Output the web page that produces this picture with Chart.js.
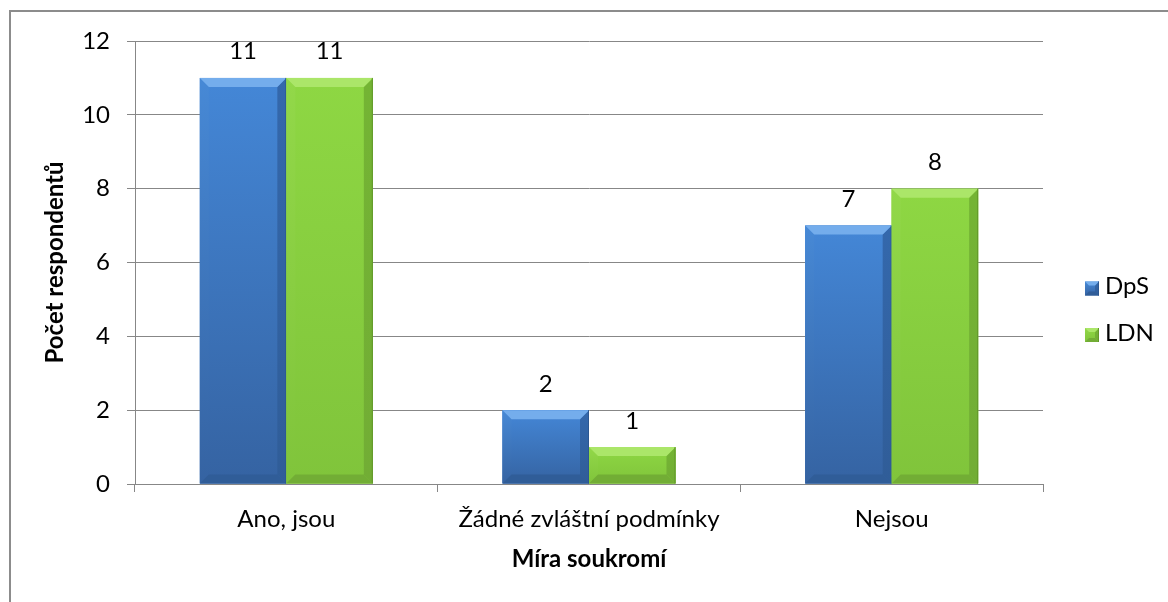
<!DOCTYPE html>
<html>
<head>
<meta charset="utf-8">
<script src="https://cdn.jsdelivr.net/npm/chart.js@4.4.0/dist/chart.umd.min.js"></script>
<style>
  html, body { margin: 0; padding: 0; background: #ffffff; }
  #wrap { width: 1168px; height: 602px; position: relative; }
</style>
</head>
<body>
<div id="wrap"><canvas id="chart" width="1168" height="602"></canvas></div>
<script>
// Categories and values
const categories = ['Ano, jsou', 'Žádné zvláštní podmínky', 'Nejsou'];
const seriesNames = ['DpS', 'LDN'];
const dpsValues = [11, 2, 7];
const ldnValues = [11, 1, 8];
const yTickValues = [0, 2, 4, 6, 8, 10, 12];

// Bevelled fill palettes, one per series
const palettes = [
  { base: '#3F7CC8', faceTop: '#4487D7', faceBottom: '#3563A2', top: '#74ADEC', left: '#4789D6', right: '#3468AC', bottom: '#305D98', edge: '#2C5791' },
  { base: '#88CE3E', faceTop: '#8ED743', faceBottom: '#80C43B', top: '#ABE669', left: '#92D849', right: '#74B434', bottom: '#72AD35', edge: '#62982A' }
];

const gridColor = '#878787';
const FONT = 'Lato';

function poly(ctx, pts, fill) {
  ctx.beginPath();
  ctx.moveTo(pts[0][0], pts[0][1]);
  for (let i = 1; i < pts.length; i++) ctx.lineTo(pts[i][0], pts[i][1]);
  ctx.closePath();
  ctx.fillStyle = fill;
  ctx.fill();
}

function bevelBox(ctx, l, t, r, b, pal, size) {
  const bv = Math.min(size, (b - t) / 3, (r - l) / 3);
  const g = ctx.createLinearGradient(0, t, 0, b);
  g.addColorStop(0, pal.faceTop);
  g.addColorStop(1, pal.faceBottom);
  ctx.fillStyle = g;
  ctx.fillRect(l, t, r - l, b - t);
  // left side
  const gl = ctx.createLinearGradient(0, t, 0, b);
  gl.addColorStop(0, pal.left);
  gl.addColorStop(1, pal.faceBottom);
  poly(ctx, [[l, t], [l + bv, t + bv], [l + bv, b - bv], [l, b]], gl);
  // right side
  const gr = ctx.createLinearGradient(0, t, 0, b);
  gr.addColorStop(0, pal.right);
  gr.addColorStop(1, pal.bottom);
  poly(ctx, [[r, t], [r - bv, t + bv], [r - bv, b - bv], [r, b]], gr);
  // bottom edge
  poly(ctx, [[l, b], [l + bv, b - bv], [r - bv, b - bv], [r, b]], pal.bottom);
  // top edge
  poly(ctx, [[l, t], [r, t], [r - bv, t + bv], [l + bv, t + bv]], pal.top);
  // thin darker rim on the right
  ctx.fillStyle = pal.edge;
  ctx.fillRect(r - 1, t, 1, b - t);
}

// Paints the bevel look over each bar and writes the value above it
const barStyling = {
  id: 'barStyling',
  afterDatasetsDraw(chart) {
    const ctx = chart.ctx;
    ctx.save();
    chart.data.datasets.forEach((ds, di) => {
      const meta = chart.getDatasetMeta(di);
      meta.data.forEach((bar, i) => {
        const p = bar.getProps(['x', 'y', 'base', 'width'], true);
        const l = p.x - p.width / 2, r = p.x + p.width / 2;
        const t = Math.min(p.y, p.base), b = Math.max(p.y, p.base);
        bevelBox(ctx, l, t, r, b, palettes[di], 9);
        ctx.fillStyle = '#000000';
        ctx.font = '24px ' + FONT;
        ctx.textAlign = 'center';
        ctx.textBaseline = 'alphabetic';
        ctx.fillText(String(ds.data[i]), p.x, t - 18.5);
      });
    });
    ctx.restore();
  },
  afterDraw(chart) {
    const ctx = chart.ctx;
    ctx.save();
    // outer frame of the chart
    ctx.strokeStyle = '#8c8c8c';
    ctx.lineWidth = 2;
    ctx.beginPath();
    ctx.moveTo(10, 602);
    ctx.lineTo(10, 11);
    ctx.lineTo(1168, 11);
    ctx.stroke();
    // legend
    ctx.font = '24px ' + FONT;
    ctx.textAlign = 'left';
    ctx.textBaseline = 'alphabetic';
    chart.data.datasets.forEach((ds, di) => {
      const boxTop = 281.5 + di * 46.5;
      bevelBox(ctx, 1085, boxTop, 1099, boxTop + 14, palettes[di], 4);
      ctx.fillStyle = '#000000';
      ctx.fillText(ds.label, 1105, 293.5 + di * 47.5);
    });
    ctx.restore();
  }
};

Chart.defaults.font.family = FONT;
Chart.defaults.color = '#000000';

new Chart(document.getElementById('chart'), {
  type: 'bar',
  data: {
    labels: categories,
    datasets: [
      { label: seriesNames[0], data: dpsValues, backgroundColor: palettes[0].base, borderWidth: 0 },
      { label: seriesNames[1], data: ldnValues, backgroundColor: palettes[1].base, borderWidth: 0 }
    ]
  },
  options: {
    responsive: false,
    animation: false,
    events: [],
    layout: { padding: { left: 0, top: 41, right: 125, bottom: 0 } },
    datasets: { bar: { categoryPercentage: 2 / 3.5, barPercentage: 1 } },
    plugins: {
      legend: { display: false },
      tooltip: { enabled: false }
    },
    scales: {
      x: {
        grid: { offset: true, drawOnChartArea: false, color: gridColor, tickLength: 8, lineWidth: 1 },
        border: { display: true, color: gridColor, width: 1 },
        ticks: { font: { size: 24 }, padding: 13, maxRotation: 0, autoSkip: false },
        title: { display: true, text: 'Míra soukromí', font: { size: 24, weight: 'bold' }, padding: { top: 0, bottom: 28.5 } },
        afterFit(scale) { scale.height = 602 - 484; }
      },
      y: {
        min: 0,
        max: 12,
        afterBuildTicks(scale) { scale.ticks = yTickValues.map(v => ({ value: v })); },
        grid: { color: gridColor, tickLength: 8, lineWidth: 1 },
        border: { display: true, color: gridColor, width: 1 },
        ticks: { font: { size: 24 }, padding: 17 },
        title: { display: true, text: 'Počet respondentů', font: { size: 24, weight: 'bold' }, padding: { top: 40.5, bottom: 0 } },
        afterFit(scale) { scale.width = 135; }
      }
    }
  },
  plugins: [barStyling]
});
</script>
</body>
</html>
